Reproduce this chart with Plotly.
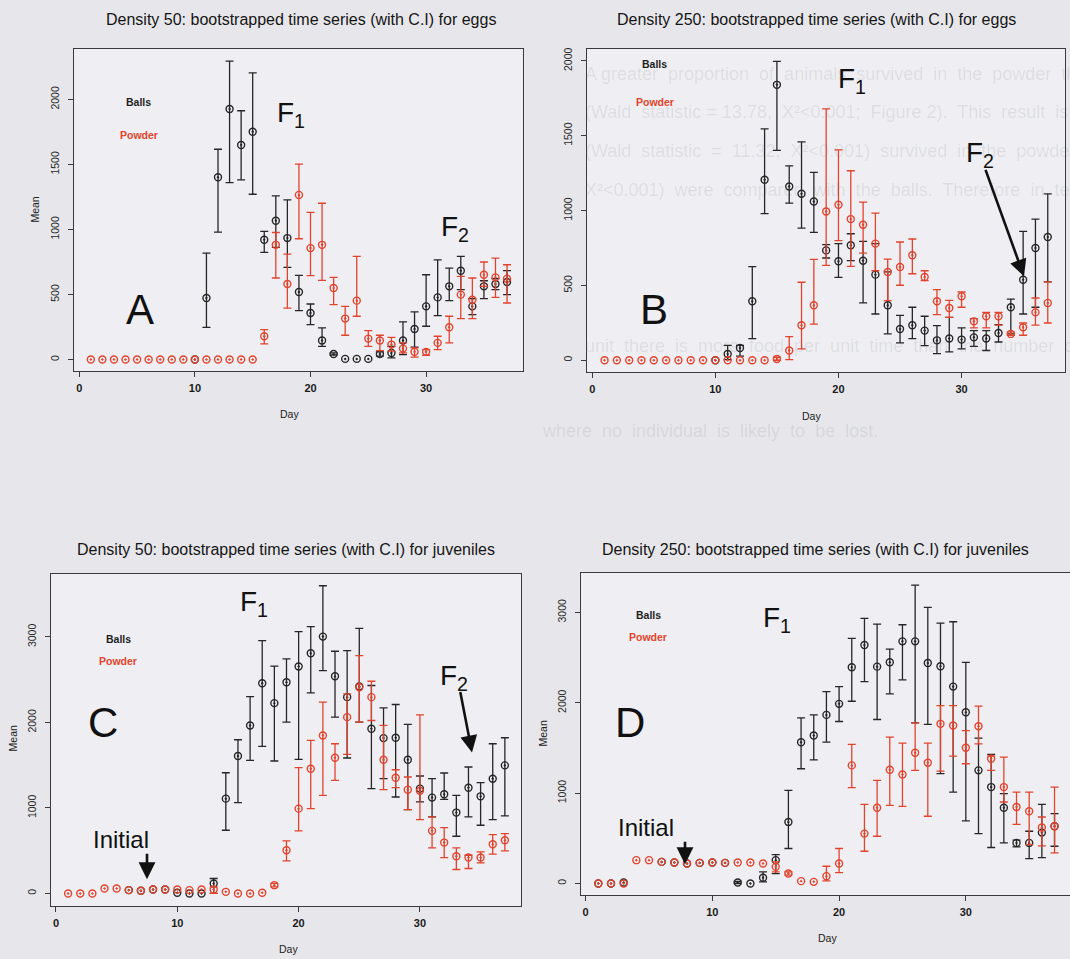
import plotly.graph_objects as go

W, H = 1070, 959
N = None
DAYS = list(range(1, 38))

# ---------------- Panel A: density 50, eggs ----------------
A_BALLS = [N, N, N, N, N, N, N, N, N, 0, 473, 1402, 1926, 1650, 1752, 921, 1067, 934, 519, 358,
           146, 43, 5, 5, 5, 43, 51, 146, 235, 409, 478, 563, 683, 409, 563, 581, 596]
A_BALLS_LO = [N, N, N, N, N, N, N, N, N, 0, 248, 980, 1361, 1381, 1271, 824, 862, 709, 376, 269,
              102, 35, 5, 5, 5, 26, 13, 38, 95, 256, 338, 453, 537, 345, 468, 537, 499]
A_BALLS_HI = [N, N, N, N, N, N, N, N, N, 0, 818, 1617, 2295, 1913, 2205, 985, 1259, 1228, 647, 427,
              243, 52, 5, 5, 5, 59, 102, 289, 366, 652, 767, 703, 793, 468, 606, 622, 683]
A_POWDER = [0, 0, 0, 0, 0, 0, 0, 0, 0, 0, 0, 0, 0, 0, 0, 179, 882, 581, 1266, 857,
            882, 550, 315, 453, 161, 146, 115, 84, 59, 59, 128, 248, 499, 460, 652, 632, 622]
A_POWDER_LO = [0, 0, 0, 0, 0, 0, 0, 0, 0, 0, 0, 0, 0, 0, 0, 120, 627, 396, 929, 645,
               609, 422, 187, 333, 102, 69, 64, 51, 18, 33, 77, 128, 315, 315, 563, 478, 435]
A_POWDER_HI = [0, 0, 0, 0, 0, 0, 0, 0, 0, 0, 0, 0, 0, 0, 0, 230, 977, 811, 1502, 1131,
               1202, 632, 409, 793, 223, 187, 171, 128, 90, 77, 179, 333, 640, 627, 750, 780, 729]

# ---------------- Panel B: density 250, eggs ----------------
B_BALLS = [N, N, N, N, N, N, N, N, N, 0, 42, 82, 394, 1206, 1840, 1161, 1112, 1061, 734, 661,
           768, 665, 572, 367, 209, 234, 198, 133, 145, 138, 153, 145, 182, 354, 538, 750, 823]
B_BALLS_LO = [N, N, N, N, N, N, N, N, N, 0, 4, 27, 145, 979, 1402, 1050, 883, 854, 683, 554,
              665, 383, 309, 176, 116, 145, 98, 44, 56, 76, 93, 65, 122, 176, 309, 354, 523]
B_BALLS_HI = [N, N, N, N, N, N, N, N, N, 0, 100, 100, 625, 1546, 1996, 1299, 1459, 1255, 772, 779,
              845, 794, 779, 590, 300, 354, 294, 231, 287, 216, 198, 198, 238, 409, 861, 943, 1112]
B_POWDER = [0, 0, 0, 0, 0, 0, 0, 0, 0, 0, 0, 0, 0, 0, 8, 65, 234, 367, 994, 1039,
            943, 905, 779, 590, 623, 701, 556, 394, 349, 427, 260, 294, 294, 176, 220, 320, 383]
B_POWDER_LO = [0, 0, 0, 0, 0, 0, 0, 0, 0, 0, 0, 0, 0, 0, 0, 4, 76, 242, 634, 799,
               627, 716, 598, 398, 501, 578, 532, 305, 287, 354, 216, 216, 234, 167, 167, 234, 249]
B_POWDER_HI = [0, 0, 0, 0, 0, 0, 0, 0, 0, 0, 0, 0, 0, 0, 20, 158, 521, 674, 1680, 1406,
               1266, 1057, 983, 676, 790, 810, 598, 472, 400, 456, 278, 320, 320, 189, 249, 416, 523]

# ---------------- Panel C: density 50, juveniles ----------------
C_BALLS = [N, N, N, N, N, 39, 31, 47, 47, 8, 0, 0, 117, 1109, 1607, 1965, 2459, 2226, 2471, 2654,
           2809, 3004, 2541, 2296, 2420, 1926, 1817, 1821, 1564, 1226, 1121, 1160, 946, 1237, 1136, 1342, 1498]
C_BALLS_LO = [N, N, N, N, N, 39, 31, 47, 47, 8, 0, 0, 0, 739, 1062, 1556, 1720, 1549, 2004, 1568,
              2346, 2607, 2062, 1584, 2004, 1226, 1342, 1128, 980, 1070, 895, 1100, 669, 895, 798, 864, 907]
C_BALLS_HI = [N, N, N, N, N, 39, 31, 47, 47, 8, 0, 0, 175, 1412, 1798, 2303, 2957, 2658, 2743, 3062,
              3121, 3599, 2833, 2840, 3101, 2432, 2171, 2210, 1977, 1374, 1342, 1409, 1148, 1479, 1296, 1751, 1821]
C_POWDER = [0, 0, 0, 58, 58, 39, 31, 47, 47, 47, 39, 47, 47, 19, 0, 0, 8, 97, 506, 992,
            1459, 1848, 1588, 2062, 2412, 2296, 1564, 1354, 1214, 1200, 732, 595, 436, 420, 420, 576, 623]
C_POWDER_LO = [0, 0, 0, 58, 58, 39, 31, 47, 47, 47, 39, 47, 0, 19, 0, 0, 8, 78, 381, 732,
               992, 1148, 1323, 1626, 2004, 2023, 1214, 1237, 980, 864, 533, 420, 280, 292, 358, 459, 498]
C_POWDER_HI = [0, 0, 0, 58, 58, 39, 31, 47, 47, 47, 39, 47, 78, 19, 0, 0, 8, 117, 615, 1471,
               1790, 2237, 1751, 2335, 2782, 2482, 1965, 1447, 1362, 2089, 895, 770, 533, 447, 486, 689, 700]

# ---------------- Panel D: density 250, juveniles ----------------
D_BALLS = [0, 0, 11, N, N, 239, 232, 221, 228, 232, 228, 11, 0, 63, 258, 681, 1564, 1638, 1866, 1988,
           2393, 2639, 2400, 2448, 2680, 2680, 2441, 2404, 2179, 1896, 1252, 1067, 839, 449, 449, 563, 633]
D_BALLS_LO = [0, 0, 11, N, N, 239, 232, 221, 228, 232, 228, 0, 0, 18, 110, 387, 1270, 1369, 1564, 1793,
              2017, 2234, 1815, 2098, 2253, 1778, 1760, 1215, 1012, 692, 552, 398, 449, 405, 276, 287, 412]
D_BALLS_HI = [0, 0, 11, N, N, 239, 232, 221, 228, 232, 228, 22, 0, 129, 320, 1031, 1833, 1866, 2124, 2179,
              2713, 2934, 2871, 2595, 2864, 3302, 3055, 2882, 2897, 2448, 1609, 1428, 994, 479, 578, 876, 773]
D_POWDER = [0, 0, 0, 258, 258, 239, 232, 221, 228, 232, 228, 232, 232, 221, 184, 110, 26, 18, 81, 221,
            1307, 552, 839, 1259, 1207, 1447, 1336, 1767, 1749, 1502, 1741, 1380, 1067, 847, 799, 620, 633]
D_POWDER_LO = [0, 0, 0, 258, 258, 239, 232, 221, 228, 232, 228, 232, 232, 221, 129, 92, 26, 18, 29, 121,
               1060, 357, 523, 865, 854, 1252, 744, 1244, 1410, 1325, 1546, 1252, 902, 655, 431, 416, 339]
D_POWDER_HI = [0, 0, 0, 258, 258, 239, 232, 221, 228, 232, 228, 232, 232, 221, 239, 129, 26, 18, 191, 387,
               1539, 876, 1141, 1620, 1553, 1778, 1553, 1969, 1969, 1693, 1962, 1410, 1399, 1012, 1012, 736, 1067]

TITLES = [
    "Density 50: bootstrapped time series (with C.I) for eggs",
    "Density 250: bootstrapped time series (with C.I) for eggs",
    "Density 50: bootstrapped time series (with C.I) for juveniles",
    "Density 250: bootstrapped time series (with C.I) for juveniles",
]
X_TICKS = [0, 10, 20, 30]
Y_TICKS_EGGS = [0, 500, 1000, 1500, 2000]
Y_TICKS_JUV = [0, 1000, 2000, 3000]
LEGEND_LABELS = ["Balls", "Powder"]

BLACK = "#262626"
RED = "#e2432d"
FONT = "Liberation Sans, Arial, sans-serif"
PAGE_BG = "#e7e7eb"


def px(x):
    return x / W


def py(y):
    return 1 - y / H


panels = [
    dict(frame=(74.3, 46.7, 523, 370), xr=[-0.43, 38.38], yr=[-89.8, 2391], yt=Y_TICKS_EGGS,
         balls=(A_BALLS, A_BALLS_LO, A_BALLS_HI), powder=(A_POWDER, A_POWDER_LO, A_POWDER_HI), ymirror=True),
    dict(frame=(586.7, 47.3, 1065, 370.7), xr=[-0.45, 38.40], yr=[-78, 2078], yt=Y_TICKS_EGGS,
         balls=(B_BALLS, B_BALLS_LO, B_BALLS_HI), powder=(B_POWDER, B_POWDER_LO, B_POWDER_HI), ymirror=True),
    dict(frame=(51, 572.7, 521, 906), xr=[-0.41, 38.33], yr=[-148, 3742], yt=Y_TICKS_JUV,
         balls=(C_BALLS, C_BALLS_LO, C_BALLS_HI), powder=(C_POWDER, C_POWDER_LO, C_POWDER_HI), ymirror=True),
    dict(frame=(580.7, 571.7, 1070, 895), xr=[-0.39, 38.22], yr=[-129, 3442], yt=Y_TICKS_JUV,
         balls=(D_BALLS, D_BALLS_LO, D_BALLS_HI), powder=(D_POWDER, D_POWDER_LO, D_POWDER_HI), ymirror=False),
]

fig = go.Figure()
layout_axes = {}

for i, p in enumerate(panels, start=1):
    sfx = "" if i == 1 else str(i)
    xa, ya = "x" + sfx, "y" + sfx
    x0, y0, x1, y1 = p["frame"]
    layout_axes["xaxis" + sfx] = dict(
        domain=[px(x0), min(px(x1), 1.0)], range=p["xr"], anchor=ya,
        showgrid=False, zeroline=False, showline=True, mirror=True,
        linecolor="#3a3a3a", linewidth=1, ticks="outside", ticklen=5, tickwidth=1,
        tickcolor="#3a3a3a", tickvals=X_TICKS, ticklabelstandoff=2,
        tickfont=dict(family=FONT, size=11, color="#1a1a1a", weight="bold"), fixedrange=True)
    layout_axes["yaxis" + sfx] = dict(
        domain=[py(y1), py(y0)], range=p["yr"], anchor=xa,
        showgrid=False, zeroline=False, showline=True, mirror=p["ymirror"],
        linecolor="#3a3a3a", linewidth=1, ticks="outside", ticklen=5, tickwidth=1,
        tickcolor="#3a3a3a", tickvals=p["yt"], tickangle=-90, ticklabelstandoff=5,
        tickfont=dict(family=FONT, size=10.5, color="#2a2a2a"), fixedrange=True)

    for (mean, lo, hi), color in ((p["balls"], BLACK), (p["powder"], RED)):
        ex, ey, eplus, eminus = [], [], [], []
        for d, m, l, h in zip(DAYS, mean, lo, hi):
            if m is None:
                continue
            if h - l > 0:
                ex.append(d)
                ey.append(m)
                eplus.append(h - m)
                eminus.append(m - l)
        fig.add_trace(go.Scatter(
            x=ex, y=ey, mode="markers", xaxis=xa, yaxis=ya, showlegend=False, hoverinfo="skip",
            marker=dict(size=2, opacity=0, color=color),
            error_y=dict(type="data", array=eplus, arrayminus=eminus, symmetric=False,
                         color=color, thickness=1.3, width=4)))
        fig.add_trace(go.Scatter(
            x=DAYS, y=mean, mode="markers", xaxis=xa, yaxis=ya, showlegend=False,
            marker=dict(symbol="circle-open-dot", size=7, color=color,
                        line=dict(width=1.4, color=color))))

annotations = []

# faint bleed-through text of the scanned page
BG_LINES = [
    (583, 72, "A greater  proportion  of  animals  survived  in  the  powder  than  in  the  balls  treatm"),
    (583, 110, "(Wald  statistic = 13.78,  X²<0.001;  Figure 2).  This  result  is  maintained  when  w"),
    (583, 149, "(Wald  statistic  =  11.32,  X²<0.001)  survived  in  the  powder  (Wald  statistic  ="),
    (583, 188, "X²<0.001)  were  compared  with  the  balls.  Therefore  in  terms  of  population  and"),
    (583, 345, "unit  there  is  more  food  per  unit  time  than  the  number  of  individuals  there"),
    (540, 430, "where  no  individual  is  likely  to  be  lost."),
]
for x, y, t in BG_LINES:
    annotations.append(dict(x=px(x), y=py(y), xref="paper", yref="paper", xanchor="left", yanchor="middle",
                            text=t.replace("  ", "\u00a0 "), showarrow=False,
                            font=dict(family=FONT, size=18, color="rgba(95,95,105,0.13)")))

def txt(x, y, t, size, color="#111111", angle=0, weight="normal"):
    annotations.append(dict(x=px(x), y=py(y), xref="paper", yref="paper", xanchor="center",
                            yanchor="middle", text=t, showarrow=False, textangle=angle,
                            font=dict(family=FONT, size=size, color=color, weight=weight)))

title_pos = [(301, 18), (816, 18), (286, 549), (815, 549)]
for (x, y), t in zip(title_pos, TITLES):
    txt(x, y, t, 16, "#151515")

for x, y in [(289, 413), (811, 415), (288, 949), (827, 938)]:
    txt(x, y, "Day", 10.5, "#222222")
for x, y in [(35, 208), (13, 738), (543, 733)]:
    txt(x, y, "Mean", 10.5, "#222222", angle=-90)

legend_pos = [((138, 100), (139, 133)), ((654, 62), (655, 100)),
              ((118, 638), (118, 660)), ((649, 614), (648, 636))]
for (b, pw) in legend_pos:
    txt(b[0], b[1], LEGEND_LABELS[0], 10.5, "#1e1e1e", weight="bold")
    txt(pw[0], pw[1], LEGEND_LABELS[1], 10.5, RED, weight="bold")

for (x, y), t in zip([(140, 308), (654, 308), (103, 722), (630, 722)], ["A", "B", "C", "D"]):
    txt(x, y, t, 42, "#111111")

for x, y in [(291, 113), (852, 79), (254, 603), (777, 619)]:
    txt(x, y, "F<sub>1</sub>", 28, "#111111")
for x, y in [(455, 227), (980, 153), (454, 677)]:
    txt(x, y, "F<sub>2</sub>", 28, "#111111")
for x, y in [(121, 839), (646, 827)]:
    txt(x, y, "Initial", 24, "#111111")

# arrows: (tail_x, tail_y, tip_x, tip_y)
for tx, ty, hx, hy in [(985, 167, 1024, 275), (147, 852, 147, 879),
                       (460, 690, 472, 752), (685, 840, 685, 864)]:
    annotations.append(dict(x=px(hx), y=py(hy), xref="paper", yref="paper", text="",
                            showarrow=True, ax=tx - hx, ay=ty - hy, arrowhead=2,
                            arrowsize=1.3, arrowwidth=2.6, arrowcolor="#111111"))

fig.update_layout(
    width=W, height=H, margin=dict(l=0, r=0, t=0, b=0),
    paper_bgcolor=PAGE_BG, plot_bgcolor="#efeff3",
    annotations=annotations, **layout_axes)

fig.write_html(
    "out.html",
    config={"displayModeBar": False},
    post_script=("document.body.style.margin='0';document.body.style.padding='0';"
                 "document.body.style.overflow='hidden';"
                 "document.body.style.background='" + PAGE_BG + "';"),
)
